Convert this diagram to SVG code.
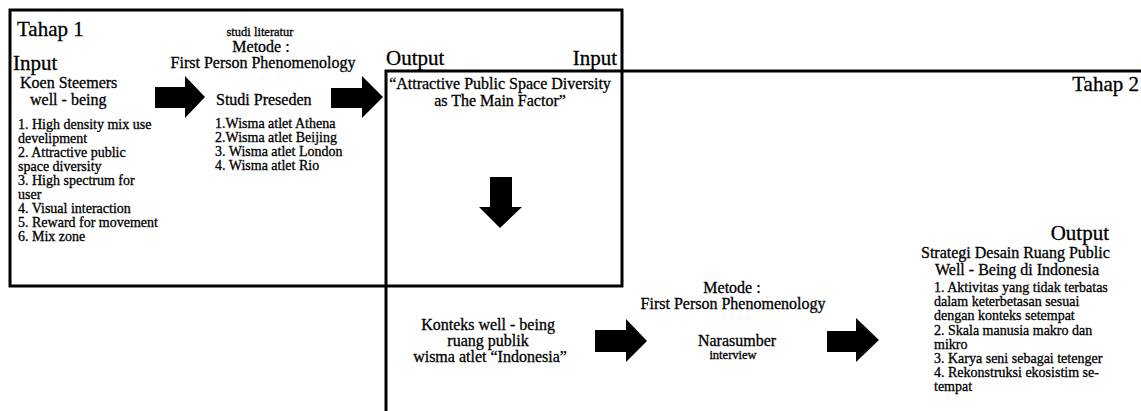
<svg xmlns="http://www.w3.org/2000/svg" width="1141" height="411" viewBox="0 0 1141 411">
<style>
text{font-family:"Liberation Serif","DejaVu Serif",serif;fill:#000;stroke:#000;stroke-width:0.3}
.h{font-size:21px}
.m{font-size:16px}
.s{font-size:14px}
.xs{font-size:12.5px}
.c{text-anchor:middle}
.frame{fill:none;stroke:#000;stroke-width:3}
.arr{fill:#000;stroke:none}
</style>
<rect width="1141" height="411" fill="#fff"/>
<g id="tahap1">
<rect class="frame" x="10" y="10" width="612" height="276"/>
<text class="h" x="17" y="36">Tahap 1</text>
</g>
<g id="tahap2">
<path class="frame" d="M1143,71 H386 V413"/>
<text class="h" x="1139" y="91" text-anchor="end">Tahap 2</text>
</g>
<g id="input-koen">
<text class="h" x="13" y="70">Input</text>
<text class="m" x="20" y="88">Koen Steemers</text>
<text class="m" x="30" y="105">well - being</text>
<text class="s" x="18" y="129">1. High density mix use</text>
<text class="s" x="18" y="143">develipment</text>
<text class="s" x="18" y="157">2. Attractive public</text>
<text class="s" x="18" y="171">space diversity</text>
<text class="s" x="18" y="185">3. High spectrum for</text>
<text class="s" x="18" y="199">user</text>
<text class="s" x="18" y="213">4. Visual interaction</text>
<text class="s" x="18" y="227">5. Reward for movement</text>
<text class="s" x="18" y="241">6. Mix zone</text>
</g>
<g id="metode1">
<text class="xs c" x="260" y="36">studi literatur</text>
<text class="m c" x="261" y="52">Metode :</text>
<text class="m c" x="263" y="68">First Person Phenomenology</text>
</g>
<g id="studi-preseden">
<text class="m" x="216" y="105">Studi Preseden</text>
<text class="s" x="215" y="128">1.Wisma atlet Athena</text>
<text class="s" x="215" y="142">2.Wisma atlet Beijing</text>
<text class="s" x="215" y="156">3. Wisma atlet London</text>
<text class="s" x="215" y="170">4. Wisma atlet Rio</text>
</g>
<g id="output1">
<text class="h" x="386" y="65">Output</text>
<text class="h" x="617" y="65" text-anchor="end">Input</text>
<text class="m c" x="500" y="89">“Attractive Public Space Diversity</text>
<text class="m c" x="500" y="106">as The Main Factor”</text>
</g>
<g id="konteks">
<text class="m c" x="488" y="330">Konteks well - being</text>
<text class="m c" x="488" y="346">ruang publik</text>
<text class="m c" x="490" y="362">wisma atlet “Indonesia”</text>
</g>
<g id="metode2">
<text class="m c" x="732" y="293">Metode :</text>
<text class="m c" x="733" y="309">First Person Phenomenology</text>
<text class="m c" x="737" y="346">Narasumber</text>
<text class="xs c" x="733" y="359">interview</text>
</g>
<g id="output2">
<text class="h" x="1109" y="240" text-anchor="end">Output</text>
<text class="m" x="921" y="258">Strategi Desain Ruang Public</text>
<text class="m c" x="1017" y="275">Well - Being di Indonesia</text>
<text class="s" x="934" y="292">1. Aktivitas yang tidak terbatas</text>
<text class="s" x="934" y="306">dalam keterbetasan sesuai</text>
<text class="s" x="934" y="320">dengan konteks setempat</text>
<text class="s" x="934" y="335">2. Skala manusia makro dan</text>
<text class="s" x="934" y="349">mikro</text>
<text class="s" x="934" y="363">3. Karya seni sebagai tetenger</text>
<text class="s" x="934" y="377">4. Rekonstruksi ekosistim se-</text>
<text class="s" x="934" y="391">tempat</text>
</g>
<g id="connectors">
<polygon class="arr" points="155,87 185,87 185,76 205,97 185,118 185,108 155,108"/>
<polygon class="arr" points="331,88 362,88 362,76 383,97 362,118 362,108 331,108"/>
<polygon class="arr" points="490,177 512,177 512,207 522,207 500,228 479,207 490,207"/>
<polygon class="arr" points="595,330 626,330 626,319 647,341 626,362 626,352 595,352"/>
<polygon class="arr" points="827,331 856,331 856,318 879,340 856,362 856,352 827,352"/>
</g>
</svg>
